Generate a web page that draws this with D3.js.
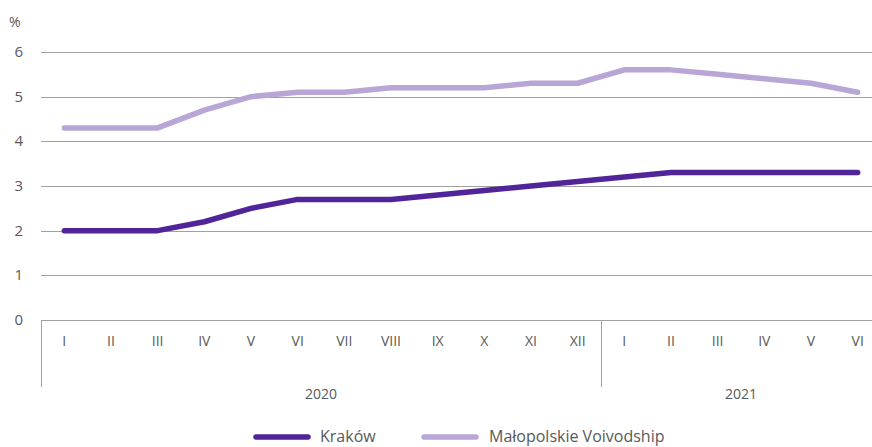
<!DOCTYPE html>
<html>
<head>
<meta charset="utf-8">
<script src="https://cdn.jsdelivr.net/npm/d3@7"></script>
<style>
  body { margin: 0; background: #fff; }
  svg text { font-family: "Open Sans", "Noto Sans", sans-serif; fill: #595959; }
</style>
</head>
<body>
<svg id="chart" width="872" height="447"></svg>
<script>
// data
var months = ["I","II","III","IV","V","VI","VII","VIII","IX","X","XI","XII","I","II","III","IV","V","VI"];
var years = [{label: "2020", from: 0, to: 11}, {label: "2021", from: 12, to: 17}];
var krakow = [2.0, 2.0, 2.0, 2.2, 2.5, 2.7, 2.7, 2.7, 2.8, 2.9, 3.0, 3.1, 3.2, 3.3, 3.3, 3.3, 3.3, 3.3];
var malopolskie = [4.3, 4.3, 4.3, 4.7, 5.0, 5.1, 5.1, 5.2, 5.2, 5.2, 5.3, 5.3, 5.6, 5.6, 5.5, 5.4, 5.3, 5.1];
var yTicks = [0, 1, 2, 3, 4, 5, 6];

var svg = d3.select("#chart");

var plotLeft = 41, plotRight = 881;
var plotTop = 52, plotBottom = 320;

var x = d3.scaleBand()
    .domain(d3.range(months.length))
    .range([plotLeft, plotRight]);

var y = d3.scaleLinear()
    .domain([0, 6])
    .range([plotBottom, plotTop]);

// gridlines
svg.selectAll(".grid")
    .data(yTicks)
    .enter().append("line")
    .attr("x1", plotLeft)
    .attr("x2", 872)
    .attr("y1", d => Math.round(y(d)) + 0.5)
    .attr("y2", d => Math.round(y(d)) + 0.5)
    .attr("stroke", "#a0a0a0")
    .attr("stroke-width", 1);

// y labels
svg.selectAll(".ylab")
    .data(yTicks)
    .enter().append("text")
    .attr("x", 23)
    .attr("y", d => y(d) + 5)
    .attr("text-anchor", "end")
    .style("font-size", "15px")
    .text(d => d);

svg.append("text")
    .attr("x", 9)
    .attr("y", 27)
    .style("font-size", "14px")
    .text("%");

// category axis dividers
var dividers = [plotLeft, x(12)];
dividers.forEach(function (dx) {
    svg.append("line")
        .attr("x1", Math.round(dx) + 0.5)
        .attr("x2", Math.round(dx) + 0.5)
        .attr("y1", plotBottom)
        .attr("y2", 387)
        .attr("stroke", "#a0a0a0")
        .attr("stroke-width", 1);
});

svg.selectAll(".mlab")
    .data(months)
    .enter().append("text")
    .attr("x", (d, i) => x(i) + x.bandwidth() / 2)
    .attr("y", 346)
    .attr("text-anchor", "middle")
    .style("font-size", "14px")
    .text(d => d);

svg.selectAll(".yearlab")
    .data(years)
    .enter().append("text")
    .attr("x", d => (x(d.from) + x(d.to) + x.bandwidth()) / 2)
    .attr("y", 399)
    .attr("text-anchor", "middle")
    .style("font-size", "14px")
    .text(d => d.label);

// lines
var line = d3.line()
    .x((d, i) => x(i) + x.bandwidth() / 2)
    .y(d => y(d));

var series = [
    {name: "Kraków", values: krakow, color: "#51249a"},
    {name: "Małopolskie Voivodship", values: malopolskie, color: "#b8a6d6"}
];

series.slice().reverse().forEach(function (s) {
    svg.append("path")
        .attr("d", line(s.values))
        .attr("fill", "none")
        .attr("stroke", s.color)
        .attr("stroke-width", 5.5)
        .attr("stroke-linecap", "round")
        .attr("stroke-linejoin", "round");
});

// legend
var legendPos = [{x1: 256, tx: 320}, {x1: 424, tx: 489}];
series.forEach(function (s, i) {
    svg.append("line")
        .attr("x1", legendPos[i].x1)
        .attr("x2", legendPos[i].x1 + 52)
        .attr("y1", 437)
        .attr("y2", 437)
        .attr("stroke", s.color)
        .attr("stroke-width", 5.5)
        .attr("stroke-linecap", "round");
    svg.append("text")
        .attr("x", legendPos[i].tx)
        .attr("y", 442)
        .style("font-size", "16px")
        .text(s.name);
});
</script>
</body>
</html>
